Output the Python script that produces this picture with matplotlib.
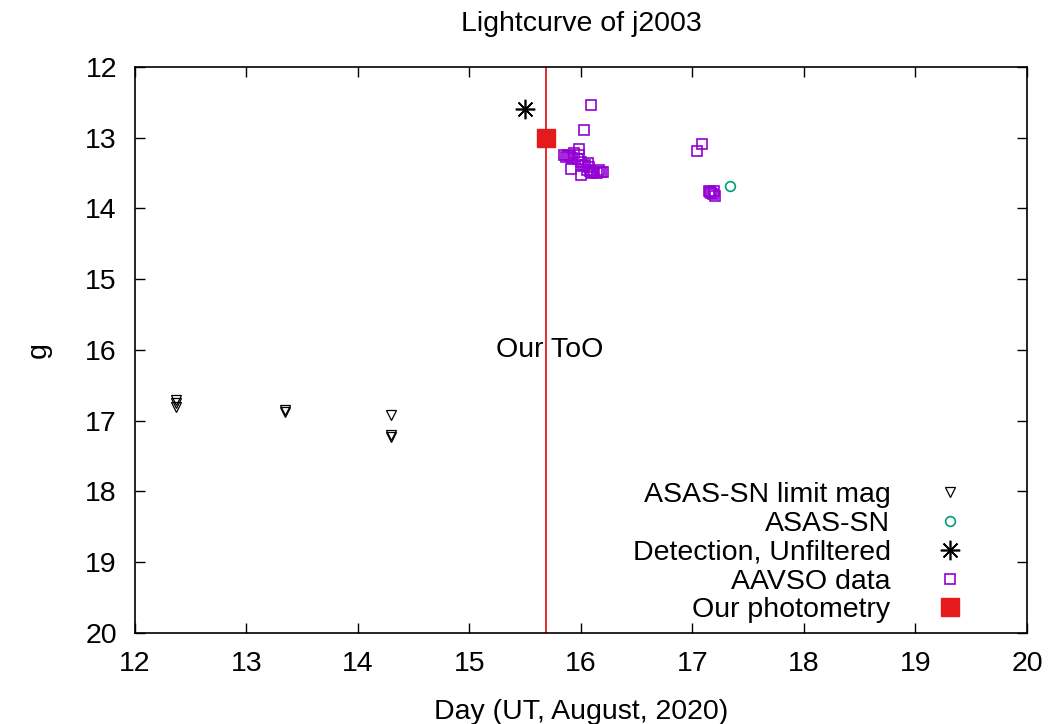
import matplotlib
matplotlib.use("Agg")
import matplotlib.pyplot as plt

plt.rcParams['font.family'] = ['Liberation Sans', 'DejaVu Sans']

# ASAS-SN upper limits
lim_day = [12.37, 12.37, 12.37, 13.35, 13.35, 14.30, 14.30, 14.30]
lim_mag = [16.70, 16.75, 16.80, 16.85, 16.87, 16.92, 17.20, 17.23]

# ASAS-SN detection
asas_day = [17.34]
asas_mag = [13.68]

# discovery, unfiltered
det_day = [15.50]
det_mag = [12.60]

# AAVSO
aavso_day = [15.85, 15.87, 15.88, 15.90, 15.92, 15.94, 15.98, 15.97, 15.98,
             15.91, 16.00, 16.00, 16.02, 16.04, 16.05, 16.07, 16.08, 16.10,
             16.12, 16.14, 16.16, 16.18, 16.20, 16.06, 16.03, 16.09,
             17.04, 17.09, 17.15, 17.17, 17.18, 17.20, 17.16, 17.19]
aavso_mag = [13.25, 13.27, 13.24, 13.26, 13.28, 13.22, 13.16, 13.30, 13.25,
             13.44, 13.53, 13.35, 13.40, 13.38, 13.45, 13.42, 13.47, 13.50,
             13.48, 13.50, 13.46, 13.49, 13.48, 13.36, 12.89, 12.54,
             13.19, 13.09, 13.75, 13.78, 13.80, 13.83, 13.77, 13.76]

# our photometry
our_day = [15.69]
our_mag = [13.00]
too_day = 15.69

FS = 20.5

fig = plt.figure(figsize=(10.56, 7.24), dpi=100)
ax = fig.add_axes([0.1278, 0.1257, 0.9725 - 0.1278, 0.9075 - 0.1257])

ax.axvline(too_day, color='#e41a1c', lw=1.3, zorder=1)
ax.text(15.72, 16.0, 'Our ToO', ha='center', va='center', fontsize=FS)

ax.plot(lim_day, lim_mag, ls='none', marker='v', ms=6.5, mfc='none', mec='black',
        mew=0.9, label='ASAS-SN limit mag')
ax.plot(asas_day, asas_mag, ls='none', marker='o', ms=7, mfc='none', mec='#009e73',
        mew=1.2, label='ASAS-SN')
ax.plot(det_day, det_mag, ls='none', marker=(8, 2, 0), ms=14, color='black',
        mew=1.2, label='Detection, Unfiltered')
ax.plot(aavso_day, aavso_mag, ls='none', marker='s', ms=7.5, mfc='none', mec='#9400d3',
        mew=1.2, label='AAVSO data')
ax.plot(our_day, our_mag, ls='none', marker='s', ms=13.5, color='#e41a1c',
        label='Our photometry')

ax.set_xlim(12, 20)
ax.set_ylim(20, 12)
ax.set_xticks(range(12, 21))
ax.set_yticks(range(12, 21))
ax.tick_params(direction='in', length=7, width=1, top=True, right=True,
               labelsize=FS, pad=13)
for s in ax.spines.values():
    s.set_linewidth(1.2)

ax.set_title('Lightcurve of j2003', fontsize=FS, pad=26)
ax.set_xlabel('Day (UT, August, 2020)', fontsize=FS, labelpad=16)
ax.set_ylabel('g', fontsize=FS, labelpad=24)

leg = ax.legend(loc='lower right', frameon=False, markerfirst=False, fontsize=FS,
                labelspacing=0.1, handletextpad=1.1, borderaxespad=0,
                borderpad=0, handlelength=2.0, bbox_to_anchor=(0.946, 0.017))
for t in leg.get_texts():
    t.set_ha('right')

fig.savefig('out.png', dpi=100)
